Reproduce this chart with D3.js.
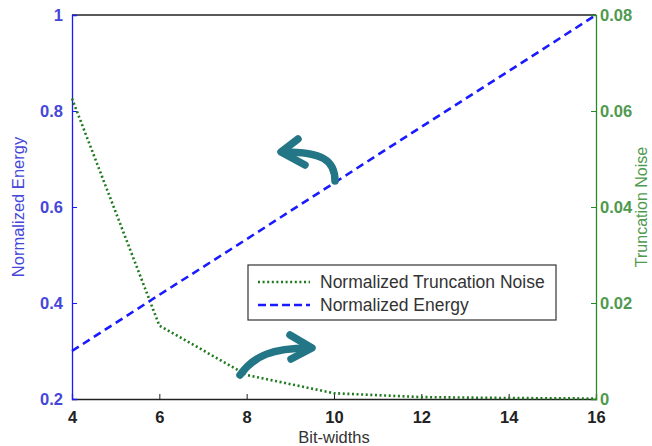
<!DOCTYPE html>
<html>
<head>
<meta charset="utf-8">
<title>Energy vs Truncation Noise</title>
<script src="https://d3js.org/d3.v7.min.js"></script>
<style>
  body { margin: 0; background: #fff; }
  svg text { font-family: "Liberation Sans", Arial, sans-serif; }
</style>
</head>
<body>
<svg id="chart" width="652" height="446"></svg>
<script>
// data
var bitWidths = [4, 6, 8, 10, 12, 14, 16];
var energy = [0.3, 0.417, 0.533, 0.65, 0.767, 0.883, 1.0];
var noise = [0.0626, 0.0153, 0.0050, 0.0012, 0.0004, 0.0002, 0.0001];
var xTicks = [4, 6, 8, 10, 12, 14, 16];
var leftTicks = [0.2, 0.4, 0.6, 0.8, 1];
var rightTicks = [0, 0.02, 0.04, 0.06, 0.08];
var seriesNames = ["Normalized Truncation Noise", "Normalized Energy"];

var margin = {top: 15, right: 56, bottom: 47, left: 72},
    width = 652 - margin.left - margin.right,
    height = 446 - margin.top - margin.bottom;

var blue = "#1a1aff", green = "#1f7a1f", teal = "#237686";

var svg = d3.select("#chart");
var g = svg.append("g")
    .attr("transform", "translate(" + margin.left + "," + margin.top + ")");

var x = d3.scaleLinear().domain([4, 16]).range([0, width]);
var yL = d3.scaleLinear().domain([0.2, 1]).range([height, 0]);
var yR = d3.scaleLinear().domain([0, 0.08]).range([height, 0]);

// top border
g.append("line").attr("x1", 0).attr("x2", width).attr("y1", 0).attr("y2", 0)
    .attr("stroke", "#222").attr("stroke-width", 1.3);

// bottom axis, ticks inward
var xAxis = g.append("g")
    .attr("transform", "translate(0," + height + ")")
    .call(d3.axisBottom(x).tickValues(xTicks).tickSize(-5).tickPadding(12).tickFormat(d3.format("d")));
xAxis.select(".domain").attr("stroke", "#222").attr("stroke-width", 1.3);
xAxis.selectAll(".tick line").attr("stroke", "#222");
xAxis.selectAll("text").attr("font-size", 16.5).attr("font-weight", "bold").attr("fill", "#222");

// left axis
var lAxis = g.append("g")
    .call(d3.axisLeft(yL).tickValues(leftTicks).tickSize(-5).tickPadding(9).tickFormat(function(d) { return d3.format("")(+d.toFixed(1)); }));
lAxis.select(".domain").attr("stroke", blue).attr("stroke-width", 1.3);
lAxis.selectAll(".tick line").attr("stroke", blue);
lAxis.selectAll("text").attr("font-size", 16.5).attr("font-weight", "bold").attr("fill", "#4646d8");

// right axis
var rAxis = g.append("g")
    .attr("transform", "translate(" + width + ",0)")
    .call(d3.axisRight(yR).tickValues(rightTicks).tickSize(-5).tickPadding(4).tickFormat(function(d) { return d3.format("")(+d.toFixed(2)); }));
rAxis.select(".domain").attr("stroke", "#2a8a2a").attr("stroke-width", 1.3);
rAxis.selectAll(".tick line").attr("stroke", "#2a8a2a");
rAxis.selectAll("text").attr("font-size", 16.5).attr("font-weight", "bold").attr("fill", "#4f9a4f");

// axis titles
svg.append("text")
    .attr("transform", "translate(18," + (margin.top + height / 2) + ") rotate(-90)")
    .attr("text-anchor", "middle").attr("dy", "0.35em")
    .attr("font-size", 16.5).attr("fill", "#4646d8")
    .text("Normalized Energy");

svg.append("text")
    .attr("transform", "translate(641," + (margin.top + height / 2) + ") rotate(-90)")
    .attr("text-anchor", "middle").attr("dy", "0.35em")
    .attr("font-size", 16).attr("fill", "#4f9a4f")
    .text("Truncation Noise");

svg.append("text")
    .attr("x", margin.left + width / 2).attr("y", 443)
    .attr("text-anchor", "middle")
    .attr("font-size", 16.5).attr("fill", "#333")
    .text("Bit-widths");

// lines
var energyLine = d3.line()
    .x(function(d, i) { return x(bitWidths[i]); })
    .y(function(d) { return yL(d); });
var noiseLine = d3.line()
    .x(function(d, i) { return x(bitWidths[i]); })
    .y(function(d) { return yR(d); });

g.append("path").datum(noise)
    .attr("d", noiseLine)
    .attr("fill", "none").attr("stroke", green)
    .attr("stroke-width", 2.6).attr("stroke-dasharray", "2,2.6");

g.append("path").datum(energy)
    .attr("d", energyLine)
    .attr("fill", "none").attr("stroke", blue)
    .attr("stroke-width", 2.6).attr("stroke-dasharray", "8,5");

// legend
var legend = svg.append("g").attr("transform", "translate(248,265)");
legend.append("rect")
    .attr("width", 308).attr("height", 55)
    .attr("fill", "#fff").attr("stroke", "#333").attr("stroke-width", 1.2);
var rows = legend.selectAll(".row").data(seriesNames).enter().append("g")
    .attr("class", "row")
    .attr("transform", function(d, i) { return "translate(0," + (17 + i * 23) + ")"; });
rows.append("line")
    .attr("x1", 10).attr("x2", 62)
    .attr("stroke", function(d, i) { return i === 0 ? green : blue; })
    .attr("stroke-width", 2.4)
    .attr("stroke-dasharray", function(d, i) { return i === 0 ? "2,2.6" : "8,4"; });
rows.append("text")
    .attr("x", 72).attr("dy", "0.35em")
    .attr("font-size", 17.5).attr("fill", "#333")
    .text(function(d) { return d; });

// curved arrows pointing to each axis
function arrow(path, tip, arm1, arm2) {
    svg.append("path").attr("d", path)
        .attr("fill", "none").attr("stroke", teal)
        .attr("stroke-width", 7.5).attr("stroke-linecap", "round");
    svg.append("path")
        .attr("d", "M" + arm1 + "L" + tip + "L" + arm2)
        .attr("fill", "none").attr("stroke", teal)
        .attr("stroke-width", 7.5).attr("stroke-linecap", "round").attr("stroke-linejoin", "round");
}
arrow("M335,181 C335,160 322,152 284,152", [281, 152], [298, 139], [305, 165]);
arrow("M240,375 C254,356 272,348 309,348", [312, 348], [290, 335], [291, 359]);
</script>
</body>
</html>
